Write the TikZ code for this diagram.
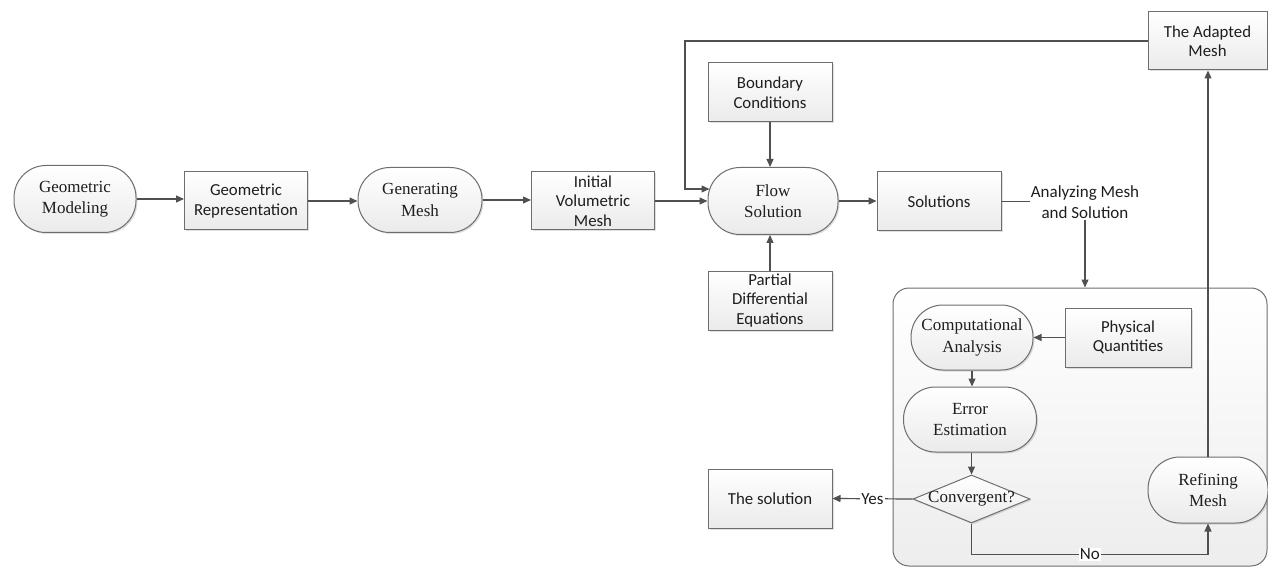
\documentclass[tikz,border=0pt]{standalone}
\usepackage{fontspec}
\setmainfont{Liberation Serif}
\newfontfamily\carl{Carlito}
\usetikzlibrary{shapes.geometric,arrows.meta,shadows}

\definecolor{edge}{HTML}{505050}
\definecolor{frame}{HTML}{6E6E6E}
\definecolor{ink}{HTML}{1E1E1E}

\tikzset{
  base/.style={draw=frame, line width=1pt, top color=white, bottom color=black!8,
    text=ink, align=center, inner sep=0pt,
    drop shadow={opacity=0.25, shadow xshift=1.5pt, shadow yshift=-1.5pt}},
  procbox/.style={base, rectangle, minimum width=124pt, minimum height=59pt,
    font=\carl\fontsize{16.8}{19.5}\selectfont},
  stadium/.style={base, rectangle, rounded corners=32pt, minimum width=124pt,
    minimum height=65pt, font=\fontsize{17}{21.5}\selectfont},
  decision/.style={base, diamond, minimum width=117pt, minimum height=48pt},
  panel/.style={draw=frame, line width=1pt, rounded corners=16pt,
    top color=white, bottom color=black!7},
  link/.style={draw=edge, line width=1.2pt, -{Triangle[length=8pt,width=7pt]}},
  plain/.style={draw=edge, line width=1.2pt},
  tag/.style={font=\carl\fontsize{17}{21}\selectfont, text=ink, inner sep=1pt, align=center},
}

\begin{document}
\begin{tikzpicture}[x=1pt, y=-1pt]
  \useasboundingbox (0,0) rectangle (1268,569);

  % container of the adaptation loop
  \node[panel, minimum width=374pt, minimum height=278pt] (panel) at (1080,427) {};

  % main pipeline
  \node[stadium, minimum width=122pt, minimum height=67pt] (gm) at (75,199) {Geometric\\Modeling};
  \node[procbox, minimum width=123pt, minimum height=58pt] (gr) at (246,201) {Geometric\\Representation};
  \node[stadium] (gen) at (420,200) {Generating\\Mesh};
  \node[procbox, minimum width=123pt, minimum height=58pt] (ivm) at (593,201) {Initial\\Volumetric\\Mesh};
  \node[stadium, minimum width=130pt, minimum height=67pt] (fs) at (773,201) {Flow\\Solution};
  \node[procbox] (bc) at (770,92.5) {Boundary\\Conditions};
  \node[procbox] (pde) at (770,300.5) {Partial\\Differential\\Equations};
  \node[procbox] (sol) at (939,201.5) {Solutions};
  \node[tag] (ams) at (1085,202) {Analyzing Mesh\\and Solution};
  \node[procbox, minimum width=119pt, minimum height=58pt] (am) at (1207.5,41) {The Adapted\\Mesh};

  % adaptation loop
  \node[stadium, minimum width=122pt] (ca) at (972,337.5) {Computational\\Analysis};
  \node[procbox, minimum width=126pt] (pq) at (1128,337.5) {Physical\\Quantities};
  \node[stadium, minimum width=133pt] (ee) at (970,419.5) {Error\\Estimation};
  \node[decision] (conv) at (971.5,499) {};
  \node[text=ink, font=\fontsize{17}{21}\selectfont, inner sep=0pt] (convtext) at (conv) {Convergent?};
  \node[procbox] (ts) at (770,498.5) {The solution};
  \node[stadium, minimum width=120pt, minimum height=66pt] (rm) at (1208,490) {Refining\\Mesh};

  % connectors
  \draw[link] (gm.east) -- (gm.east -| gr.west);
  \draw[link] (gr.east) -- (gr.east -| gen.west);
  \draw[link] (gen.east) -- (gen.east -| ivm.west);
  \draw[link] (ivm.east) -- (ivm.east -| fs.west);
  \draw[link] (bc.south) -- (bc.south |- fs.north);
  \draw[link] (pde.north) -- (pde.north |- fs.south);
  \draw[link] (fs.east) -- (fs.east -| sol.west);
  \draw[plain] (sol.east) -- (ams.west |- sol.east);
  \draw[link] (ams.south) -- (ams.south |- panel.north);

  \coordinate (bend) at (685,41);
  \draw[link] (am.west) -- (bend) |- ([xshift=2pt,yshift=12pt]fs.west);

  \draw[link] (pq.west) -- (pq.west -| ca.east);
  \draw[link] (ca.south) -- (ca.south |- ee.north);
  \draw[link] (ee.south -| conv.north) -- (conv.north);
  \draw[link] (conv.west) -- node[tag, fill=white] (yes) {Yes} (ts.east);
  \draw[link] (conv.south) -- ++(0,31) -| node[pos=0.25, tag, fill=white] (no) {No} (rm.south);
  \draw[link] (rm.north) -- (rm.north |- am.south);
\end{tikzpicture}
\end{document}
